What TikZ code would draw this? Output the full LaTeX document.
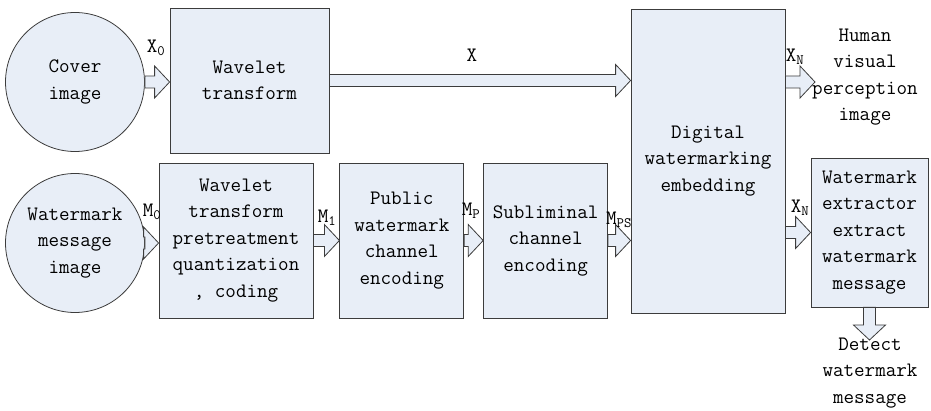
\documentclass[tikz,border=0pt]{standalone}
\usetikzlibrary{positioning}
\usetikzlibrary{calc}

\definecolor{boxfill}{RGB}{232,238,247}
\definecolor{boxline}{RGB}{60,60,60}

\begin{document}
\begin{tikzpicture}[x=1pt,y=-1pt,
  every node/.style={font=\ttfamily\fontsize{20.5}{26.5}\selectfont},
  blk/.style={rectangle,draw=boxline,fill=boxfill,line width=0.8pt,align=center,inner sep=0pt},
  src/.style={circle,draw=boxline,fill=boxfill,line width=0.8pt,align=center,inner sep=0pt,minimum size=139pt},
  txt/.style={align=center,inner sep=0pt},
  lbl/.style={inner sep=0pt},
  fat/.style={draw=boxline,fill=boxfill,line width=0.8pt,line join=miter,
    to path={($(\tikztostart)!6pt!90:(\tikztotarget)$)
      -- ($(\tikztotarget)!15pt!(\tikztostart)!6pt!90:(\tikztotarget)$)
      -- ($(\tikztotarget)!15pt!(\tikztostart)!16pt!90:(\tikztotarget)$)
      -- (\tikztotarget)
      -- ($(\tikztotarget)!15pt!(\tikztostart)!16pt!-90:(\tikztotarget)$)
      -- ($(\tikztotarget)!15pt!(\tikztostart)!6pt!-90:(\tikztotarget)$)
      -- ($(\tikztostart)!6pt!-90:(\tikztotarget)$) -- cycle}}]
\useasboundingbox (0,0) rectangle (931,411);

% sources
\node[src] (cover) at (75,82) {Cover\\image};
\node[src] (wm) at (75,243) {Watermark\\message\\image};

% processing blocks
\node[blk,minimum width=159pt,minimum height=145pt] (wt) at (249.5,80.5) {Wavelet\\transform};
\node[blk,minimum width=154pt,minimum height=155pt] (pre) at (236,240.5) {Wavelet\\transform\\pretreatment\\quantization\\,~coding};
\node[blk,minimum width=124pt,minimum height=155pt,right=26pt of pre] (pub) {Public\\watermark\\channel\\encoding};
\node[blk,minimum width=124pt,minimum height=155pt,right=19pt of pub] (sub) {Subliminal\\channel\\encoding};
\node[blk,minimum width=154pt,minimum height=304pt] (emb) at (708,161) {Digital\\watermarking\\embedding};
\node[blk,minimum width=117pt,minimum height=149pt] (ext) at (869.5,232.5) {Watermark\\extractor\\extract\\watermark\\message};

% outputs
\node[txt] (hv) at (865,77) {Human\\visual\\perception\\image};
\node[txt] (det) at (870,373) {Detect\\watermark\\message};
\coordinate (hvtip) at (815,82);
\coordinate (dettip) at (869.5,340);

% block arrows
\draw[fat] (cover.east) to (cover.east -| wt.west);
\draw[fat] (wt.east) to (wt.east -| emb.west);
\draw[fat] (wm.east) to (wm.east -| pre.west);
\draw[fat] (pre.east) to (pub.west);
\draw[fat] (pub.east) to (sub.west);
\draw[fat] (sub.east) to (sub.east -| emb.west);
\draw[fat] (hvtip -| emb.east) to (hvtip);
\draw[fat] (ext.west -| emb.east) to (ext.west);
\draw[fat] (ext.south) to (dettip);

% signal labels
\node[lbl] (lx0) at (156,48) {X\textsubscript{0}};
\node[lbl] (lx) at (472,55) {X};
\node[lbl] (lm0) at (152,212) {M\textsubscript{0}};
\node[lbl] (lm1) at (327,218) {M\textsubscript{1}};
\node[lbl] (lmp) at (471,211) {M\textsubscript{P}};
\node[lbl] (lmps) at (619,220) {M\textsubscript{PS}};
\node[lbl] (lxn) at (795,57) {X\textsubscript{N}};
\node[lbl] (lxn2) at (800,208) {X\textsubscript{N}};
\end{tikzpicture}
\end{document}
